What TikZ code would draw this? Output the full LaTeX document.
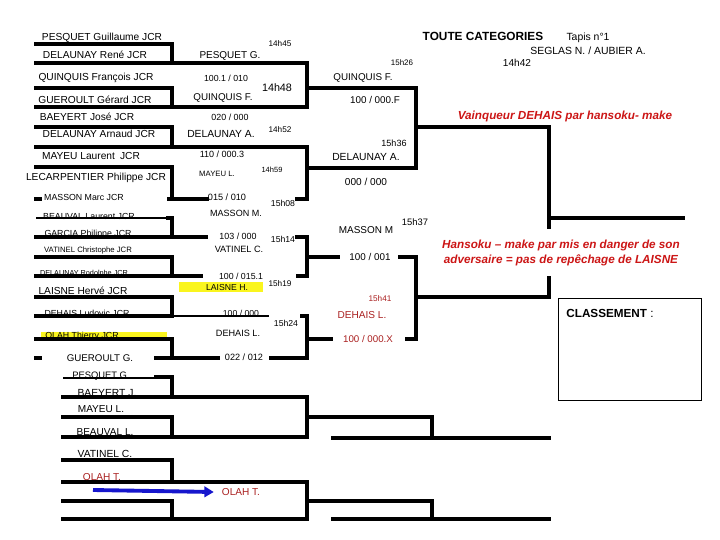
\documentclass[tikz,border=0pt]{standalone}
\usepackage{fontspec}
\setmainfont{Liberation Sans}
\usetikzlibrary{arrows.meta}
\definecolor{vred}{RGB}{204,22,22}
\definecolor{dred}{RGB}{170,32,32}
\definecolor{hlyel}{RGB}{250,245,30}
\definecolor{arrblue}{RGB}{22,22,205}
\begin{document}
\begin{tikzpicture}[
  x=0.03cm, y=-0.03cm,
  brk/.style={line width=2.8pt, line cap=rect},
  brkthin/.style={line width=0.9pt},
  tx/.style={font=\fontsize{#1}{#1}\selectfont, inner sep=0pt, anchor=base, yshift={-0.3585*#1}},
  txb/.style={tx=#1, font=\fontsize{#1}{#1}\selectfont\bfseries},
  res/.style={tx=#1, text=dred},
  note/.style={tx=#1, font=\fontsize{#1}{#1}\selectfont\bfseries\itshape, text=vred},
  hl/.style={fill=hlyel}
]
\fill[white] (0,0) rectangle (720,540);
% ---------------- highlights ----------------
\fill[hl] (179,282) rectangle (263,292);
\fill[hl] (41,332) rectangle (167,339);
% ---------------- first round ----------------
\draw[brk] (36,44) -| (172,63);   \draw[brk] (36,63) -- (307,63);
\draw[brk] (36,88) -| (172,107);  \draw[brk] (36,107) -- (307,107);
\draw[brk] (36,127) -| (172,147); \draw[brk] (36,147) -- (307,147);
\draw[brk] (36,167) -| (172,199); \draw[brk] (169,199) -- (207,199);
\draw[brk] (36,199) -- (40,199);  \draw[brk] (297,199) -- (307,199);
\draw[brkthin] (36,218) -- (168,218);
\draw[brk] (168,218) -| (172,237); \draw[brk] (36,237) -- (206,237);
\draw[brk] (297,237) -- (307,237);
\draw[brk] (36,257) -| (172,276); \draw[brk] (36,276) -- (201,276);
\draw[brk] (298,276) -- (307,276);
\draw[brk] (36,297) -| (172,316); \draw[brk] (36,316) -- (172,316);
\draw[brkthin] (172,316) -- (269,316); \draw[brk] (302,316) -- (307,316);
\draw[brk] (36,339) -| (172,358); \draw[brk] (36,358) -- (40,358);
\draw[brk] (156,358) -- (218,358); \draw[brk] (271,358) -- (307,358);
\foreach \a/\b in {63/107, 147/199, 237/276, 316/358}
  \draw[brk] (307,\a) -- (307,\b);
% ---------------- second round ----------------
\draw[brk] (307,88) -- (416,88);   \draw[brk] (307,168) -- (416,168);
\draw[brk] (307,257) -- (338,257); \draw[brk] (400,257) -- (416,257);
\draw[brk] (307,339) -- (331,339); \draw[brk] (407,339) -- (416,339);
\draw[brk] (416,88) -- (416,168);  \draw[brk] (416,257) -- (416,339);
% ---------------- semi-finals / final ----------------
\draw[brk] (416,127) -- (549,127); \draw[brk] (416,297) -- (549,297);
\draw[brk] (549,127) -- (549,227); \draw[brk] (549,278) -- (549,297);
\draw[brk] (549,218) -- (683,218);
% ---------------- repechage ----------------
\draw[brkthin] (63,378) -- (156,378);
\draw[brk] (156,377) -| (172,397); \draw[brk] (63,397) -- (307,397);
\draw[brk] (63,417) -| (172,437);  \draw[brk] (63,437) -- (307,437);
\draw[brk] (307,397) -- (307,437);
\draw[brk] (307,417) -| (432,438); \draw[brk] (333,438) -- (549,438);
\draw[brk] (63,460) -| (172,482);  \draw[brk] (63,482) -- (307,482);
\draw[brk] (63,501) -| (172,519);  \draw[brk] (63,519) -- (307,519);
\draw[brk] (307,482) -- (307,519);
\draw[brk] (307,501) -| (432,519); \draw[brk] (333,519) -- (549,519);
% ---------------- header ----------------
\node[txb=10.1] (titre) at (483,36) {TOUTE CATEGORIES};
\node[tx=8.9] (tapis) at (588,37) {Tapis n°1};
\node[tx=8.9] (arbitres) at (588,51) {SEGLAS N. / AUBIER A.};
\node[tx=8.6] (hfinale) at (517,63) {14h42};
% ---------------- entrants ----------------
\node[tx=8.7] (e1) at (102,37) {PESQUET Guillaume JCR};
\node[tx=8.7] (e2) at (95,55) {DELAUNAY René JCR};
\node[tx=8.7] (e3) at (96,77) {QUINQUIS François JCR};
\node[tx=8.7] (e4) at (95,100) {GUEROULT Gérard JCR};
\node[tx=8.7] (e5) at (87,117) {BAEYERT José JCR};
\node[tx=8.7] (e6) at (99,134) {DELAUNAY Arnaud JCR};
\node[tx=8.7] (e7) at (91,156) {MAYEU Laurent\enspace JCR};
\node[tx=8.7] (e8) at (96,177) {LECARPENTIER Philippe JCR};
\node[tx=7.5] (e9) at (84,197) {MASSON Marc JCR};
\node[tx=7.5] (e10) at (89,216) {BEAUVAL Laurent JCR};
\node[tx=7.5] (e11) at (88,233) {GARCIA Philippe JCR};
\node[tx=6.6] (e12) at (88,250) {VATINEL Christophe JCR};
\node[tx=6.2] (e13) at (84,273) {DELAUNAY Rodolphe JCR};
\node[tx=8.7] (e14) at (83,291) {LAISNE Hervé JCR};
\node[tx=7.5] (e15) at (87,313) {DEHAIS Ludovic JCR};
\node[tx=7.5] (e16) at (82,335) {OLAH Thierry JCR};
% ---------------- first round results ----------------
\node[tx=7] (h1) at (280,44) {14h45};
\node[tx=8.5] (w1) at (230,55) {PESQUET G.};
\node[tx=7.5] (sc1) at (226,78) {100.1 / 010};
\node[tx=9.2] (h2) at (277,88) {14h48};
\node[tx=8.4] (w2) at (223,97) {QUINQUIS F.};
\node[tx=7.6] (sc2) at (230,117) {020 / 000};
\node[tx=7] (h3) at (280,130) {14h52};
\node[tx=8.8] (w3) at (221,134) {DELAUNAY A.};
\node[tx=7.7] (sc3) at (222,154) {110 / 000.3};
\node[tx=6.4] (h4) at (272,170) {14h59};
\node[tx=6.6] (w4) at (217,174) {MAYEU L.};
\node[tx=7.8] (sc4) at (227,197) {015 / 010};
\node[tx=7.4] (h5) at (283,203) {15h08};
\node[tx=7.7] (w5) at (236,213) {MASSON M.};
\node[tx=7.6] (sc5) at (238,236) {103 / 000};
\node[tx=7.4] (h6) at (283,239) {15h14};
\node[tx=7.8] (w6) at (239,249) {VATINEL C.};
\node[tx=7.5] (sc6) at (241,276) {100 / 015.1};
\node[tx=7] (h7) at (280,284) {15h19};
\node[tx=7.4] (w7) at (227,287) {LAISNE H.};
\node[tx=7.4] (sc7) at (241,313) {100 / 000};
\node[tx=7.4] (h8) at (286,323) {15h24};
\node[tx=7.8] (w8) at (238,333) {DEHAIS L.};
\node[tx=7.8] (sc8) at (244,357) {022 / 012};
% ---------------- second round results ----------------
\node[tx=6.8] (h9) at (402,63) {15h26};
\node[tx=8.4] (q1) at (363,77) {QUINQUIS F.};
\node[tx=8.4] (p1) at (375,100) {100 / 000.F};
\node[tx=7.7] (h10) at (394,143) {15h36};
\node[tx=8.8] (q2) at (366,157) {DELAUNAY A.};
\node[tx=8.6] (p2) at (366,182) {000 / 000};
\node[tx=8] (h11) at (415,222) {15h37};
\node[tx=8.5] (q3) at (366,230) {MASSON M};
\node[tx=8.4] (p3) at (370,257) {100 / 001};
\node[res=7] (h12) at (380,299) {15h41};
\node[res=8.6] (q4) at (362,315) {DEHAIS L.};
\node[res=8.3] (p4) at (368,339) {100 / 000.X};
% ---------------- notes ----------------
\node[note=10] (vainq) at (565,115) {Vainqueur DEHAIS par hansoku- make};
\node[font=\fontsize{10}{12.8}\selectfont\bfseries\itshape, text=vred, align=center, inner sep=0pt]
  (hansoku) at (561,252.5) {Hansoku – make par mis en danger de son\\adversaire = pas de repêchage de LAISNE};
\draw[line width=0.8pt] (558,298) rectangle (701,400);
\node[tx=10] (classt) at (610,313) {\textbf{CLASSEMENT} :};
% ---------------- repechage names ----------------
\node[tx=8.3] (r1) at (100,358) {GUEROULT G.};
\node[tx=8] (r2) at (101,375) {PESQUET G.};
\node[tx=8.8] (r3) at (107,393) {BAEYERT J.};
\node[tx=8.6] (r4) at (101,409) {MAYEU L.};
\node[tx=8.6] (r5) at (105,432) {BEAUVAL L.};
\node[tx=8.8] (r6) at (105,454) {VATINEL C.};
\node[res=8.6] (r7) at (102,477) {OLAH T.};
\node[res=8.6] (r8) at (241,492) {OLAH T.};
\coordinate (arrS) at (93,490);
\draw[arrblue, line width=3.3pt, -{Triangle[length=8pt,width=9pt]}, shorten >=2.4mm]
  (arrS) -- (r8.west);
\end{tikzpicture}
\end{document}
